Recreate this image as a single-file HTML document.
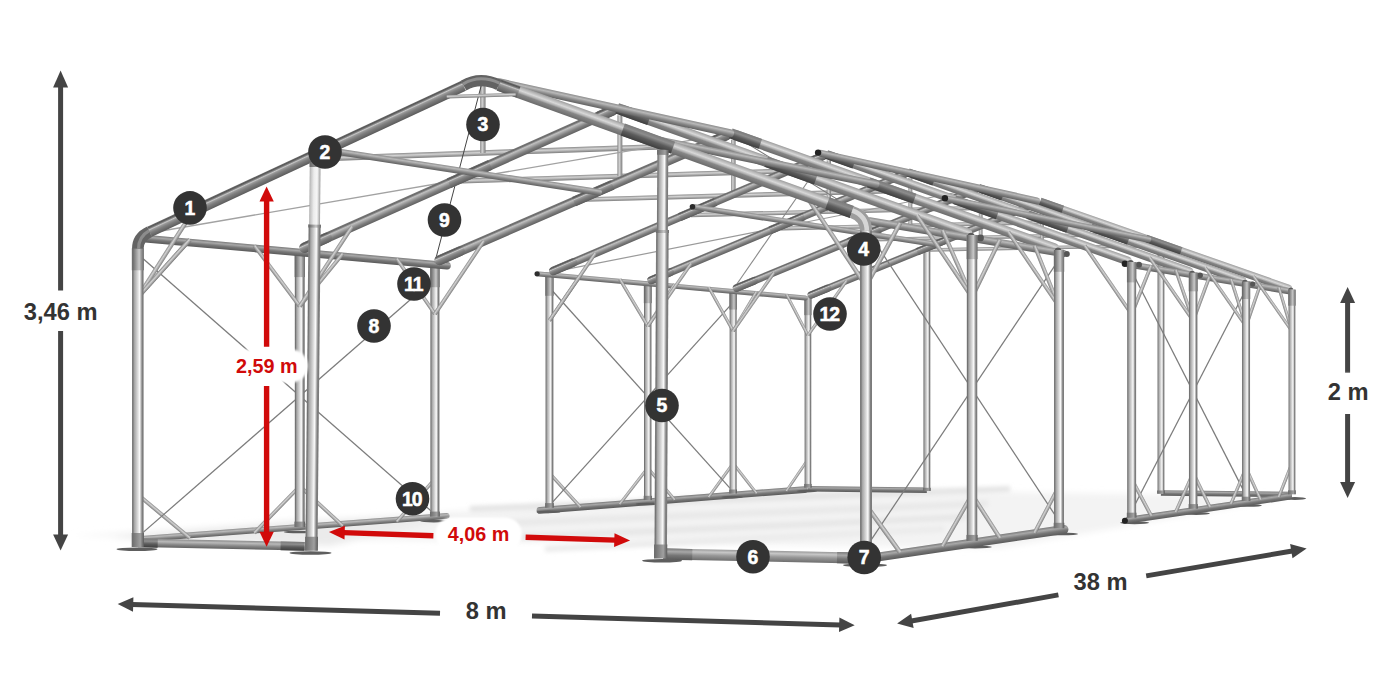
<!DOCTYPE html>
<html lang="pl">
<head>
<meta charset="utf-8">
<title>Wymiary konstrukcji namiotu</title>
<style>
html,body{margin:0;padding:0;background:#fff;}
body{width:1400px;height:700px;overflow:hidden;}
svg{display:block;}
text{font-family:"Liberation Sans",Arial,sans-serif;font-weight:700;}
</style>
</head>
<body>
<svg width="1400" height="700" viewBox="0 0 1400 700">

<defs>
<linearGradient id="gPost" x1="0" y1="0" x2="0" y2="1">
 <stop offset="0" stop-color="#8c8c8c"/><stop offset="0.07" stop-color="#727272"/><stop offset="0.2" stop-color="#a6a6a6"/><stop offset="0.45" stop-color="#d2d2d2"/><stop offset="0.66" stop-color="#fafafa"/><stop offset="0.76" stop-color="#c2c2c2"/><stop offset="0.88" stop-color="#7e7e7e"/><stop offset="1" stop-color="#7a7a7a"/>
</linearGradient>
<linearGradient id="gPostHi" x1="0" y1="0" x2="0" y2="1">
 <stop offset="0" stop-color="#a8a8a8"/><stop offset="0.1" stop-color="#c4c4c4"/><stop offset="0.4" stop-color="#ececec"/><stop offset="0.7" stop-color="#f6f6f6"/><stop offset="0.9" stop-color="#bdbdbd"/><stop offset="1" stop-color="#a0a0a0"/>
</linearGradient>
<linearGradient id="gTopSl" x1="0" y1="0" x2="0" y2="1">
 <stop offset="0" stop-color="#7c7c7c"/><stop offset="0.08" stop-color="#6a6a6a"/><stop offset="0.3" stop-color="#909090"/><stop offset="0.62" stop-color="#c8c8c8"/><stop offset="0.78" stop-color="#999999"/><stop offset="1" stop-color="#6c6c6c"/>
</linearGradient>
<linearGradient id="gFoot" x1="0" y1="0" x2="0" y2="1">
 <stop offset="0" stop-color="#6a6a6a"/><stop offset="0.5" stop-color="#909090"/><stop offset="0.7" stop-color="#a0a0a0"/><stop offset="1" stop-color="#5a5a5a"/>
</linearGradient>
<linearGradient id="gRaf" x1="0" y1="0" x2="0" y2="1">
 <stop offset="0" stop-color="#6c6c6c"/><stop offset="0.12" stop-color="#565656"/><stop offset="0.24" stop-color="#8a8a8a"/><stop offset="0.32" stop-color="#c6c6c6"/><stop offset="0.42" stop-color="#9a9a9a"/><stop offset="0.6" stop-color="#7f7f7f"/><stop offset="0.85" stop-color="#696969"/><stop offset="1" stop-color="#5a5a5a"/>
</linearGradient>
<linearGradient id="gRafL" x1="0" y1="0" x2="0" y2="1">
 <stop offset="0" stop-color="#747474"/><stop offset="0.14" stop-color="#6c6c6c"/><stop offset="0.32" stop-color="#c0c0c0"/><stop offset="0.5" stop-color="#a0a0a0"/><stop offset="0.7" stop-color="#7e7e7e"/><stop offset="1" stop-color="#606060"/>
</linearGradient>
<linearGradient id="gRafR" x1="0" y1="0" x2="0" y2="1">
 <stop offset="0" stop-color="#9c9c9c"/><stop offset="0.15" stop-color="#b8b8b8"/><stop offset="0.35" stop-color="#d8d8d8"/><stop offset="0.52" stop-color="#b0b0b0"/><stop offset="0.64" stop-color="#868686"/><stop offset="1" stop-color="#6c6c6c"/>
</linearGradient>
<linearGradient id="gSleeve" x1="0" y1="0" x2="0" y2="1">
 <stop offset="0" stop-color="#7a7a7a"/><stop offset="0.3" stop-color="#8d8d8d"/><stop offset="0.6" stop-color="#5c5c5c"/>
 <stop offset="1" stop-color="#3f3f3f"/>
</linearGradient>
<linearGradient id="gBeam" x1="0" y1="0" x2="0" y2="1">
 <stop offset="0" stop-color="#8c8c8c"/><stop offset="0.3" stop-color="#b9b9b9"/><stop offset="0.65" stop-color="#858585"/>
 <stop offset="1" stop-color="#616161"/>
</linearGradient>
<linearGradient id="gBeamD" x1="0" y1="0" x2="0" y2="1">
 <stop offset="0" stop-color="#7a7a7a"/><stop offset="0.28" stop-color="#a8a8a8"/><stop offset="0.6" stop-color="#777777"/>
 <stop offset="1" stop-color="#5a5a5a"/>
</linearGradient>
<linearGradient id="gRail" x1="0" y1="0" x2="0" y2="1">
 <stop offset="0" stop-color="#9a9a9a"/><stop offset="0.25" stop-color="#c6c6c6"/><stop offset="0.55" stop-color="#989898"/>
 <stop offset="1" stop-color="#6e6e6e"/>
</linearGradient>
<linearGradient id="gLiteBeam" x1="0" y1="0" x2="0" y2="1">
 <stop offset="0" stop-color="#a8a8a8"/><stop offset="0.35" stop-color="#d6d6d6"/><stop offset="0.7" stop-color="#a9a9a9"/>
 <stop offset="1" stop-color="#7f7f7f"/>
</linearGradient>
<linearGradient id="gLite" x1="0" y1="0" x2="0" y2="1">
 <stop offset="0" stop-color="#8a8a8a"/><stop offset="0.4" stop-color="#d2d2d2"/><stop offset="1" stop-color="#7c7c7c"/>
</linearGradient>
<filter id="soft" x="-10%" y="-20%" width="120%" height="140%"><feGaussianBlur stdDeviation="0.9"/></filter>
<filter id="blur3" x="-5%" y="-30%" width="110%" height="160%"><feGaussianBlur stdDeviation="3"/></filter>
<filter id="blur2" x="-5%" y="-30%" width="110%" height="160%"><feGaussianBlur stdDeviation="2"/></filter>
</defs>

<rect width="1400" height="700" fill="#ffffff"/>
<g id="frame">
<g filter="url(#blur3)">
<polygon points="70,536 808,489 1292,497 1000,548" fill="#f3f3f3"/>
<polygon points="110,538 300,520 460,516 330,546" fill="#ebebeb"/>
</g>
<g filter="url(#blur2)">
<polygon points="470,506 1010,486 1010,492 470,512" fill="#e4e4e4"/>
<polygon points="495,520 988,500 988,507 495,527" fill="#e9e9e9"/>
<polygon points="520,534 966,514 966,520 520,540" fill="#e6e6e6"/>
<polygon points="545,546 944,526 944,532 545,552" fill="#ebebeb"/>
</g>
<rect x="0" y="-2.70" width="118.96" height="5.40" fill="url(#gBeamD)" transform="translate(807.89 488.80) rotate(0.68)"/>
<rect x="0" y="-2.70" width="131.01" height="5.40" fill="url(#gBeamD)" transform="translate(1160.91 492.96) rotate(0.68)"/>
<rect x="0" y="-3.50" width="242.52" height="7.00" fill="url(#gPost)" transform="translate(926.84 490.66) rotate(-90.00)"/>
<rect x="0" y="-3.80" width="3.19" height="7.60" fill="url(#gFoot)" transform="translate(926.84 490.98) rotate(-90.00)"/>
<rect x="0" y="-3.50" width="249.95" height="7.00" fill="url(#gPost)" transform="translate(1160.91 493.44) rotate(-90.00)"/>
<rect x="0" y="-3.80" width="3.29" height="7.60" fill="url(#gFoot)" transform="translate(1160.91 493.77) rotate(-90.00)"/>
<rect x="0" y="-3.00" width="312.48" height="6.00" rx="3.0" fill="url(#gBeam)" transform="translate(138.00 539.12) rotate(-4.30)"/>
<rect x="0" y="-3.40" width="272.13" height="6.80" rx="3.4" fill="url(#gBeamD)" transform="translate(536.60 510.65) rotate(-4.51)"/>
<rect x="0" y="-2.00" width="67.49" height="4.00" fill="url(#gLite)" transform="translate(138.00 494.72) rotate(39.89)"/>
<rect x="0" y="-1.86" width="65.12" height="3.71" fill="url(#gLite)" transform="translate(254.37 532.91) rotate(-45.80)"/>
<rect x="0" y="-1.86" width="58.55" height="3.71" fill="url(#gLite)" transform="translate(299.76 486.22) rotate(42.72)"/>
<rect x="0" y="-1.74" width="57.15" height="3.47" fill="url(#gLite)" transform="translate(396.73 521.68) rotate(-48.14)"/>
<rect x="0" y="-1.63" width="46.11" height="3.27" fill="url(#gLite)" transform="translate(549.42 473.09) rotate(47.69)"/>
<rect x="0" y="-1.55" width="45.75" height="3.09" fill="url(#gLite)" transform="translate(619.75 504.10) rotate(-52.25)"/>
<rect x="0" y="-1.55" width="41.65" height="3.09" fill="url(#gLite)" transform="translate(647.76 467.93) rotate(49.87)"/>
<rect x="0" y="-1.47" width="41.56" height="2.94" fill="url(#gLite)" transform="translate(708.71 497.08) rotate(-54.05)"/>
<rect x="0" y="-1.47" width="37.98" height="2.94" fill="url(#gLite)" transform="translate(733.11 463.44) rotate(51.87)"/>
<rect x="0" y="-1.41" width="38.06" height="2.81" fill="url(#gLite)" transform="translate(786.45 490.95) rotate(-55.71)"/>
<line x1="138.0" y1="254.2" x2="434.9" y2="514.3" stroke="#7c7c7c" stroke-width="1.25"/>
<line x1="434.9" y1="278.2" x2="138.0" y2="536.9" stroke="#7c7c7c" stroke-width="1.25"/>
<line x1="549.4" y1="287.5" x2="733.1" y2="491.7" stroke="#7c7c7c" stroke-width="1.25"/>
<line x1="733.1" y1="302.4" x2="549.4" y2="505.6" stroke="#7c7c7c" stroke-width="1.25"/>
<rect x="0" y="-5.00" width="276.82" height="10.00" fill="url(#gPost)" transform="translate(299.76 526.61) rotate(-90.00)"/>
<rect x="0" y="-5.30" width="5.46" height="10.60" fill="url(#gFoot)" transform="translate(299.76 527.07) rotate(-90.00)"/>
<rect x="0" y="-5.20" width="27.31" height="10.40" fill="url(#gTopSl)" transform="translate(299.76 277.10) rotate(-90.00)"/>
<rect x="0" y="-4.60" width="254.02" height="9.20" fill="url(#gPost)" transform="translate(434.87 516.18) rotate(-90.00)"/>
<rect x="0" y="-4.90" width="5.01" height="9.80" fill="url(#gFoot)" transform="translate(434.87 516.60) rotate(-90.00)"/>
<rect x="0" y="-4.80" width="25.06" height="9.60" fill="url(#gTopSl)" transform="translate(434.87 287.22) rotate(-90.00)"/>
<rect x="0" y="-4.00" width="234.69" height="8.00" fill="url(#gPost)" transform="translate(549.42 507.34) rotate(-90.00)"/>
<rect x="0" y="-4.30" width="4.63" height="8.60" fill="url(#gFoot)" transform="translate(549.42 507.73) rotate(-90.00)"/>
<rect x="0" y="-4.20" width="23.15" height="8.40" fill="url(#gTopSl)" transform="translate(549.42 295.81) rotate(-90.00)"/>
<rect x="0" y="-3.75" width="218.09" height="7.50" fill="url(#gPost)" transform="translate(647.76 499.75) rotate(-90.00)"/>
<rect x="0" y="-4.05" width="4.30" height="8.10" fill="url(#gFoot)" transform="translate(647.76 500.11) rotate(-90.00)"/>
<rect x="0" y="-3.95" width="21.51" height="7.90" fill="url(#gTopSl)" transform="translate(647.76 303.18) rotate(-90.00)"/>
<rect x="0" y="-3.60" width="203.68" height="7.20" fill="url(#gPost)" transform="translate(733.11 493.16) rotate(-90.00)"/>
<rect x="0" y="-3.90" width="4.02" height="7.80" fill="url(#gFoot)" transform="translate(733.11 493.50) rotate(-90.00)"/>
<rect x="0" y="-3.80" width="20.09" height="7.60" fill="url(#gTopSl)" transform="translate(733.11 309.57) rotate(-90.00)"/>
<rect x="0" y="-3.40" width="191.06" height="6.80" fill="url(#gPost)" transform="translate(807.89 487.39) rotate(-90.00)"/>
<rect x="0" y="-3.70" width="3.77" height="7.40" fill="url(#gFoot)" transform="translate(807.89 487.70) rotate(-90.00)"/>
<rect x="0" y="-3.60" width="18.85" height="7.20" fill="url(#gTopSl)" transform="translate(807.89 315.17) rotate(-90.00)"/>
<rect x="0" y="-3.80" width="310.52" height="7.60" rx="3.8" fill="url(#gBeamD)" transform="translate(141.55 238.26) rotate(5.14)"/>
<rect x="0" y="-2.50" width="272.38" height="5.00" rx="2.5" fill="url(#gBeam)" transform="translate(536.60 273.79) rotate(5.14)"/>
<circle cx="537.1" cy="273.8" r="2.6" fill="#2e2e2e"/>
<rect x="0" y="-2.10" width="77.32" height="4.20" fill="url(#gLite)" transform="translate(138.00 297.14) rotate(-47.95)"/>
<rect x="0" y="-1.96" width="75.83" height="3.91" fill="url(#gLite)" transform="translate(254.37 245.64) rotate(53.23)"/>
<rect x="0" y="-1.96" width="67.98" height="3.91" fill="url(#gLite)" transform="translate(299.76 306.37) rotate(-50.75)"/>
<rect x="0" y="-1.84" width="67.27" height="3.67" fill="url(#gLite)" transform="translate(396.73 258.67) rotate(55.46)"/>
<rect x="0" y="-1.73" width="54.77" height="3.47" fill="url(#gLite)" transform="translate(549.42 320.62) rotate(-55.48)"/>
<rect x="0" y="-1.65" width="54.84" height="3.29" fill="url(#gLite)" transform="translate(619.75 279.10) rotate(59.28)"/>
<rect x="0" y="-1.65" width="49.95" height="3.29" fill="url(#gLite)" transform="translate(647.76 326.24) rotate(-57.49)"/>
<rect x="0" y="-1.57" width="50.19" height="3.14" fill="url(#gLite)" transform="translate(708.71 287.24) rotate(60.92)"/>
<rect x="0" y="-1.57" width="45.92" height="3.14" fill="url(#gLite)" transform="translate(733.11 331.11) rotate(-59.29)"/>
<rect x="0" y="-1.51" width="46.28" height="3.01" fill="url(#gLite)" transform="translate(786.45 294.36) rotate(62.40)"/>
<rect x="0" y="-2.72" width="351.82" height="5.44" fill="url(#gLite)" transform="translate(311.52 158.95) rotate(-2.00)"/>
<rect x="0" y="-2.72" width="67.24" height="5.44" fill="url(#gLite)" transform="translate(482.84 152.97) rotate(-90.00)"/>
<rect x="0" y="-2.49" width="324.96" height="4.98" fill="url(#gLite)" transform="translate(461.20 181.11) rotate(-1.77)"/>
<rect x="0" y="-2.49" width="60.92" height="4.98" fill="url(#gLite)" transform="translate(619.86 176.20) rotate(-90.00)"/>
<rect x="0" y="-2.30" width="301.75" height="4.60" fill="url(#gLite)" transform="translate(585.69 199.54) rotate(-1.59)"/>
<rect x="0" y="-2.30" width="55.69" height="4.60" fill="url(#gLite)" transform="translate(733.32 195.44) rotate(-90.00)"/>
<rect x="0" y="-2.14" width="281.53" height="4.29" fill="url(#gLite)" transform="translate(690.84 215.10) rotate(-1.44)"/>
<rect x="0" y="-2.14" width="51.28" height="4.29" fill="url(#gLite)" transform="translate(828.82 211.63) rotate(-90.00)"/>
<rect x="0" y="-2.01" width="263.78" height="4.02" fill="url(#gLite)" transform="translate(780.84 228.42) rotate(-1.32)"/>
<rect x="0" y="-2.01" width="47.52" height="4.02" fill="url(#gLite)" transform="translate(910.32 225.44) rotate(-90.00)"/>
<rect x="0" y="-1.89" width="248.08" height="3.78" fill="url(#gLite)" transform="translate(858.74 239.95) rotate(-1.21)"/>
<rect x="0" y="-1.89" width="44.27" height="3.78" fill="url(#gLite)" transform="translate(980.68 237.37) rotate(-90.00)"/>
<rect x="0" y="-1.79" width="234.12" height="3.58" fill="url(#gLite)" transform="translate(926.84 250.03) rotate(-1.12)"/>
<rect x="0" y="-1.79" width="41.44" height="3.58" fill="url(#gLite)" transform="translate(1042.03 247.77) rotate(-90.00)"/>
<line x1="138.0" y1="235.0" x2="730.8" y2="133.4" stroke="#a2a2a2" stroke-width="1.30"/>
<line x1="483.0" y1="78.8" x2="434.9" y2="262.2" stroke="#444" stroke-width="1.00"/>
<line x1="866.0" y1="217.1" x2="730.8" y2="133.4" stroke="#777" stroke-width="1.10"/>
<line x1="549.4" y1="272.7" x2="978.6" y2="188.0" stroke="#9a9a9a" stroke-width="1.20"/>
<line x1="826.5" y1="154.5" x2="733.1" y2="289.5" stroke="#8a8a8a" stroke-width="1.10"/>
<rect x="0" y="-3.60" width="250.79" height="7.20" rx="3.6" fill="url(#gRafL)" transform="translate(807.89 296.33) rotate(-22.19)"/>
<rect x="0" y="-3.75" width="25.08" height="7.50" rx="3.8" fill="url(#gRaf)" transform="translate(807.89 296.33) rotate(-22.19)"/>
<rect x="0" y="-3.75" width="32.60" height="7.50" fill="url(#gRaf)" transform="translate(917.03 251.80) rotate(-22.19)"/>
<rect x="0" y="-3.75" width="17.56" height="7.50" rx="3.8" fill="url(#gRaf)" transform="translate(1023.84 208.22) rotate(-22.19)"/>
<rect x="0" y="-1.57" width="67.09" height="3.14" fill="url(#gLite)" transform="translate(807.89 335.38) rotate(-54.71)"/>
<rect x="0" y="-3.75" width="265.65" height="7.50" rx="3.8" fill="url(#gRafL)" transform="translate(733.11 289.48) rotate(-22.45)"/>
<rect x="0" y="-3.90" width="26.56" height="7.80" rx="3.9" fill="url(#gRaf)" transform="translate(733.11 289.48) rotate(-22.45)"/>
<rect x="0" y="-3.90" width="34.53" height="7.80" fill="url(#gRaf)" transform="translate(848.50 241.80) rotate(-22.45)"/>
<rect x="0" y="-3.90" width="18.60" height="7.80" rx="3.9" fill="url(#gRaf)" transform="translate(961.44 195.14) rotate(-22.45)"/>
<rect x="0" y="-1.64" width="71.32" height="3.28" fill="url(#gLite)" transform="translate(733.11 331.11) rotate(-55.00)"/>
<rect x="0" y="-3.90" width="282.34" height="7.80" rx="3.9" fill="url(#gRafL)" transform="translate(647.76 281.66) rotate(-22.75)"/>
<rect x="0" y="-4.05" width="28.23" height="8.10" rx="4.0" fill="url(#gRaf)" transform="translate(647.76 281.66) rotate(-22.75)"/>
<rect x="0" y="-4.05" width="36.70" height="8.10" fill="url(#gRaf)" transform="translate(770.14 230.35) rotate(-22.75)"/>
<rect x="0" y="-4.05" width="19.76" height="8.10" rx="4.0" fill="url(#gRaf)" transform="translate(889.91 180.14) rotate(-22.75)"/>
<rect x="0" y="-1.72" width="76.12" height="3.44" fill="url(#gLite)" transform="translate(647.76 326.24) rotate(-55.33)"/>
<rect x="0" y="-4.10" width="301.23" height="8.20" rx="4.1" fill="url(#gRafL)" transform="translate(549.42 272.66) rotate(-23.10)"/>
<rect x="0" y="-4.25" width="30.12" height="8.50" rx="4.2" fill="url(#gRaf)" transform="translate(549.42 272.66) rotate(-23.10)"/>
<rect x="0" y="-4.25" width="39.16" height="8.50" fill="url(#gRaf)" transform="translate(679.64 217.12) rotate(-23.10)"/>
<rect x="0" y="-4.25" width="21.09" height="8.50" rx="4.2" fill="url(#gRaf)" transform="translate(807.10 162.76) rotate(-23.10)"/>
<rect x="0" y="-1.81" width="81.62" height="3.62" fill="url(#gLite)" transform="translate(549.42 320.62) rotate(-55.72)"/>
<rect x="0" y="-4.80" width="322.76" height="9.60" rx="4.8" fill="url(#gRafL)" transform="translate(434.87 262.17) rotate(-23.51)"/>
<rect x="0" y="-4.95" width="32.28" height="9.90" rx="5.0" fill="url(#gRaf)" transform="translate(434.87 262.17) rotate(-23.51)"/>
<rect x="0" y="-4.95" width="41.96" height="9.90" fill="url(#gRaf)" transform="translate(573.97 201.65) rotate(-23.51)"/>
<rect x="0" y="-4.95" width="22.59" height="9.90" rx="5.0" fill="url(#gRaf)" transform="translate(710.11 142.41) rotate(-23.51)"/>
<rect x="0" y="-1.92" width="87.97" height="3.84" fill="url(#gLite)" transform="translate(434.87 314.09) rotate(-56.18)"/>
<rect x="0" y="-5.10" width="347.51" height="10.20" rx="5.1" fill="url(#gRafL)" transform="translate(299.76 249.79) rotate(-24.02)"/>
<rect x="0" y="-5.25" width="34.75" height="10.50" rx="5.2" fill="url(#gRaf)" transform="translate(299.76 249.79) rotate(-24.02)"/>
<rect x="0" y="-5.25" width="45.18" height="10.50" fill="url(#gRaf)" transform="translate(448.94 183.31) rotate(-24.02)"/>
<rect x="0" y="-5.25" width="24.33" height="10.50" rx="5.2" fill="url(#gRaf)" transform="translate(594.96 118.24) rotate(-24.02)"/>
<rect x="0" y="-2.05" width="95.40" height="4.09" fill="url(#gLite)" transform="translate(299.76 306.37) rotate(-56.72)"/>
<rect x="0" y="-3.25" width="280.17" height="6.50" rx="3.2" fill="url(#gBeam)" transform="translate(325.01 149.78) rotate(8.81)"/>
<rect x="0" y="-2.80" width="246.84" height="5.60" rx="2.8" fill="url(#gBeam)" transform="translate(692.06 206.65) rotate(8.81)"/>
<circle cx="692.5" cy="206.7" r="2.8" fill="#2a2a2a"/>
<rect x="0" y="-3.90" width="266.77" height="7.80" rx="3.9" fill="url(#gRafR)" transform="translate(1040.10 201.59) rotate(19.28)"/>
<rect x="0" y="-4.00" width="37.35" height="8.00" fill="url(#gSleeve)" transform="translate(1145.86 238.58) rotate(19.28)"/>
<rect x="0" y="-4.00" width="24.01" height="8.00" fill="url(#gSleeve)" transform="translate(1040.10 201.59) rotate(19.28)"/>
<rect x="0" y="-4.05" width="283.39" height="8.10" rx="4.0" fill="url(#gRafR)" transform="translate(978.63 188.03) rotate(19.33)"/>
<rect x="0" y="-4.15" width="39.68" height="8.30" fill="url(#gSleeve)" transform="translate(1090.94 227.44) rotate(19.33)"/>
<rect x="0" y="-4.15" width="25.51" height="8.30" fill="url(#gSleeve)" transform="translate(978.63 188.03) rotate(19.33)"/>
<rect x="0" y="-4.20" width="302.20" height="8.40" rx="4.2" fill="url(#gRafR)" transform="translate(908.14 172.49) rotate(19.39)"/>
<rect x="0" y="-4.30" width="42.31" height="8.60" fill="url(#gSleeve)" transform="translate(1027.86 214.64) rotate(19.39)"/>
<rect x="0" y="-4.30" width="27.20" height="8.60" fill="url(#gSleeve)" transform="translate(908.14 172.49) rotate(19.39)"/>
<rect x="0" y="-4.40" width="323.63" height="8.80" rx="4.4" fill="url(#gRafR)" transform="translate(826.50 154.49) rotate(19.47)"/>
<rect x="0" y="-4.50" width="45.31" height="9.00" fill="url(#gSleeve)" transform="translate(954.65 199.80) rotate(19.47)"/>
<rect x="0" y="-4.50" width="29.13" height="9.00" fill="url(#gSleeve)" transform="translate(826.50 154.49) rotate(19.47)"/>
<rect x="0" y="-5.10" width="348.26" height="10.20" rx="5.1" fill="url(#gRafR)" transform="translate(730.83 133.40) rotate(19.56)"/>
<rect x="0" y="-5.20" width="48.76" height="10.40" fill="url(#gSleeve)" transform="translate(868.66 182.37) rotate(19.56)"/>
<rect x="0" y="-5.20" width="31.34" height="10.40" fill="url(#gSleeve)" transform="translate(730.83 133.40) rotate(19.56)"/>
<rect x="0" y="-5.40" width="376.84" height="10.80" rx="5.4" fill="url(#gRafR)" transform="translate(617.18 108.34) rotate(19.67)"/>
<rect x="0" y="-5.50" width="52.76" height="11.00" fill="url(#gSleeve)" transform="translate(766.21 161.62) rotate(19.67)"/>
<rect x="0" y="-5.50" width="33.92" height="11.00" fill="url(#gSleeve)" transform="translate(617.18 108.34) rotate(19.67)"/>
<rect x="0" y="-4.00" width="244.75" height="8.00" rx="4.0" fill="url(#gBeam)" transform="translate(494.93 81.39) rotate(12.43)"/>
<rect x="0" y="-3.50" width="227.82" height="7.00" rx="3.5" fill="url(#gBeam)" transform="translate(817.62 152.54) rotate(12.43)"/>
<circle cx="818.1" cy="152.6" r="3.2" fill="#222"/>
<rect x="0" y="-3.75" width="235.77" height="7.50" rx="3.8" fill="url(#gBeam)" transform="translate(648.25 138.09) rotate(11.46)"/>
<rect x="0" y="-3.20" width="210.93" height="6.40" rx="3.2" fill="url(#gBeam)" transform="translate(944.47 198.15) rotate(11.46)"/>
<circle cx="944.9" cy="198.2" r="3.2" fill="#222"/>
<rect x="0" y="-3.75" width="203.63" height="7.50" rx="3.8" fill="url(#gBeam)" transform="translate(866.00 220.42) rotate(9.49)"/>
<rect x="0" y="-3.20" width="169.32" height="6.40" rx="3.2" fill="url(#gBeam)" transform="translate(1124.90 263.71) rotate(9.49)"/>
<circle cx="1124.9" cy="263.7" r="3.2" fill="#222"/>
<circle cx="1066.8" cy="254.0" r="3.0" fill="#555"/>
<circle cx="971.0" cy="236.2" r="3.4" fill="#5a5a5a"/>
<circle cx="980.5" cy="237.9" r="3.4" fill="#555"/>
<circle cx="1058.0" cy="250.8" r="3.2" fill="#5a5a5a"/>
<circle cx="1130.6" cy="263.1" r="3.0" fill="#5a5a5a"/>
<circle cx="1139.0" cy="264.8" r="3.0" fill="#555"/>
<circle cx="1192.2" cy="273.5" r="2.8" fill="#5a5a5a"/>
<circle cx="1200.1" cy="275.2" r="2.8" fill="#555"/>
<circle cx="1245.0" cy="282.4" r="2.7" fill="#5a5a5a"/>
<circle cx="1252.6" cy="284.1" r="2.7" fill="#555"/>
<circle cx="1290.9" cy="290.1" r="2.5" fill="#5a5a5a"/>
<ellipse cx="975.0" cy="547.1" rx="16.8" ry="1.4" fill="#5e5e5e"/>
<ellipse cx="1062.0" cy="533.9" rx="16.0" ry="1.4" fill="#5e5e5e"/>
<ellipse cx="1134.6" cy="522.8" rx="14.4" ry="1.4" fill="#5e5e5e"/>
<ellipse cx="1196.2" cy="513.5" rx="13.6" ry="1.4" fill="#5e5e5e"/>
<ellipse cx="1249.0" cy="505.4" rx="12.8" ry="1.4" fill="#5e5e5e"/>
<ellipse cx="1294.9" cy="498.5" rx="11.2" ry="1.4" fill="#5e5e5e"/>
<rect x="0" y="-4.50" width="204.59" height="9.00" rx="4.5" fill="url(#gBeamD)" transform="translate(866.00 558.75) rotate(-8.41)"/>
<rect x="0" y="-3.40" width="168.83" height="6.80" rx="3.4" fill="url(#gBeamD)" transform="translate(1124.90 520.73) rotate(-8.43)"/>
<circle cx="1124.9" cy="520.7" r="3.0" fill="#222"/>
<line x1="866.0" y1="228.6" x2="1059.0" y2="521.1" stroke="#7c7c7c" stroke-width="1.25"/>
<line x1="1059.0" y1="259.4" x2="866.0" y2="547.6" stroke="#7c7c7c" stroke-width="1.25"/>
<line x1="1131.6" y1="271.0" x2="1246.0" y2="495.4" stroke="#7c7c7c" stroke-width="1.25"/>
<line x1="1246.0" y1="289.3" x2="1131.6" y2="511.1" stroke="#7c7c7c" stroke-width="1.25"/>
<rect x="0" y="-2.27" width="71.72" height="4.55" fill="url(#gLite)" transform="translate(866.00 286.02) rotate(-61.55)"/>
<rect x="0" y="-2.27" width="58.49" height="4.55" fill="url(#gLite)" transform="translate(866.00 504.96) rotate(54.26)"/>
<rect x="0" y="-2.10" width="73.32" height="4.20" fill="url(#gLite)" transform="translate(942.48 230.16) rotate(66.24)"/>
<rect x="0" y="-2.10" width="59.48" height="4.20" fill="url(#gLite)" transform="translate(942.48 546.23) rotate(-60.22)"/>
<rect x="0" y="-2.10" width="63.74" height="4.20" fill="url(#gLite)" transform="translate(972.02 297.27) rotate(-64.10)"/>
<rect x="0" y="-2.10" width="51.41" height="4.20" fill="url(#gLite)" transform="translate(972.02 494.60) rotate(57.21)"/>
<rect x="0" y="-2.10" width="98.69" height="4.20" fill="url(#gLite)" transform="translate(916.96 215.37) rotate(56.09)"/>
<rect x="0" y="-1.95" width="65.38" height="3.91" fill="url(#gLite)" transform="translate(1034.59 245.84) rotate(68.08)"/>
<rect x="0" y="-1.95" width="52.63" height="3.91" fill="url(#gLite)" transform="translate(1034.59 532.73) rotate(-62.37)"/>
<rect x="0" y="-1.95" width="90.26" height="3.91" fill="url(#gLite)" transform="translate(1008.26 231.84) rotate(55.80)"/>
<rect x="0" y="-1.83" width="52.30" height="3.67" fill="url(#gLite)" transform="translate(1131.62 314.21) rotate(-68.10)"/>
<rect x="0" y="-1.83" width="41.51" height="3.67" fill="url(#gLite)" transform="translate(1131.62 479.00) rotate(61.97)"/>
<rect x="0" y="-1.83" width="83.16" height="3.67" fill="url(#gLite)" transform="translate(1084.60 245.62) rotate(55.56)"/>
<rect x="0" y="-1.73" width="53.78" height="3.47" fill="url(#gLite)" transform="translate(1175.73 269.87) rotate(71.05)"/>
<rect x="0" y="-1.73" width="42.78" height="3.47" fill="url(#gLite)" transform="translate(1175.73 512.04) rotate(-65.91)"/>
<rect x="0" y="-1.73" width="48.04" height="3.47" fill="url(#gLite)" transform="translate(1193.19 320.74) rotate(-69.68)"/>
<rect x="0" y="-1.73" width="37.91" height="3.47" fill="url(#gLite)" transform="translate(1193.19 472.98) rotate(63.90)"/>
<rect x="0" y="-1.73" width="77.10" height="3.47" fill="url(#gLite)" transform="translate(1149.37 257.31) rotate(55.36)"/>
<rect x="0" y="-1.65" width="49.42" height="3.29" fill="url(#gLite)" transform="translate(1230.99 279.28) rotate(72.27)"/>
<rect x="0" y="-1.65" width="39.13" height="3.29" fill="url(#gLite)" transform="translate(1230.99 503.94) rotate(-67.37)"/>
<rect x="0" y="-1.65" width="44.46" height="3.29" fill="url(#gLite)" transform="translate(1246.04 326.35) rotate(-71.06)"/>
<rect x="0" y="-1.65" width="34.91" height="3.29" fill="url(#gLite)" transform="translate(1246.04 467.82) rotate(65.59)"/>
<rect x="0" y="-1.65" width="71.85" height="3.29" fill="url(#gLite)" transform="translate(1205.03 267.36) rotate(55.19)"/>
<rect x="0" y="-1.57" width="45.72" height="3.14" fill="url(#gLite)" transform="translate(1278.80 287.42) rotate(73.34)"/>
<rect x="0" y="-1.57" width="36.06" height="3.14" fill="url(#gLite)" transform="translate(1278.80 496.93) rotate(-68.68)"/>
<rect x="0" y="-1.57" width="67.28" height="3.14" fill="url(#gLite)" transform="translate(1253.36 276.08) rotate(55.04)"/>
<rect x="0" y="-3.50" width="204.35" height="7.00" fill="url(#gPost)" transform="translate(1291.91 494.00) rotate(-90.00)"/>
<rect x="0" y="-3.80" width="4.01" height="7.60" fill="url(#gFoot)" transform="translate(1291.91 494.34) rotate(-90.00)"/>
<rect x="0" y="-3.70" width="16.05" height="7.40" fill="url(#gTopSl)" transform="translate(1291.91 305.70) rotate(-90.00)"/>
<rect x="0" y="-4.00" width="218.81" height="8.00" fill="url(#gPost)" transform="translate(1246.04 500.65) rotate(-90.00)"/>
<rect x="0" y="-4.30" width="4.30" height="8.60" fill="url(#gFoot)" transform="translate(1246.04 501.01) rotate(-90.00)"/>
<rect x="0" y="-4.20" width="17.18" height="8.40" fill="url(#gTopSl)" transform="translate(1246.04 299.03) rotate(-90.00)"/>
<rect x="0" y="-4.25" width="235.47" height="8.50" fill="url(#gPost)" transform="translate(1193.19 508.32) rotate(-90.00)"/>
<rect x="0" y="-4.55" width="4.62" height="9.10" fill="url(#gFoot)" transform="translate(1193.19 508.71) rotate(-90.00)"/>
<rect x="0" y="-4.45" width="18.49" height="8.90" fill="url(#gTopSl)" transform="translate(1193.19 291.34) rotate(-90.00)"/>
<rect x="0" y="-4.50" width="254.89" height="9.00" fill="url(#gPost)" transform="translate(1131.62 517.25) rotate(-90.00)"/>
<rect x="0" y="-4.80" width="5.00" height="9.60" fill="url(#gFoot)" transform="translate(1131.62 517.67) rotate(-90.00)"/>
<rect x="0" y="-4.70" width="20.02" height="9.40" fill="url(#gTopSl)" transform="translate(1131.62 282.38) rotate(-90.00)"/>
<rect x="0" y="-5.00" width="277.79" height="10.00" fill="url(#gPost)" transform="translate(1058.99 527.79) rotate(-90.00)"/>
<rect x="0" y="-5.30" width="5.45" height="10.60" fill="url(#gFoot)" transform="translate(1058.99 528.24) rotate(-90.00)"/>
<rect x="0" y="-5.20" width="21.82" height="10.40" fill="url(#gTopSl)" transform="translate(1058.99 271.81) rotate(-90.00)"/>
<rect x="0" y="-5.25" width="305.21" height="10.50" fill="url(#gPost)" transform="translate(972.02 540.40) rotate(-90.00)"/>
<rect x="0" y="-5.55" width="5.99" height="11.10" fill="url(#gFoot)" transform="translate(972.02 540.90) rotate(-90.00)"/>
<rect x="0" y="-5.45" width="23.97" height="10.90" fill="url(#gTopSl)" transform="translate(972.02 259.16) rotate(-90.00)"/>
<ellipse cx="298.8" cy="532.0" rx="15.0" ry="1.3" fill="#5e5e5e"/>
<ellipse cx="433.9" cy="521.1" rx="13.8" ry="1.3" fill="#5e5e5e"/>
<ellipse cx="548.4" cy="511.9" rx="12.0" ry="1.3" fill="#5e5e5e"/>
<ellipse cx="646.8" cy="504.0" rx="11.2" ry="1.3" fill="#5e5e5e"/>
<ellipse cx="732.1" cy="497.1" rx="10.8" ry="1.3" fill="#5e5e5e"/>
<ellipse cx="806.9" cy="491.1" rx="10.2" ry="1.3" fill="#5e5e5e"/>
<rect x="0" y="-4.25" width="166.66" height="8.50" fill="url(#gBeam)" transform="translate(138.00 542.82) rotate(1.21)"/>
<rect x="0" y="-5.50" width="202.92" height="11.00" fill="url(#gRail)" transform="translate(663.12 553.96) rotate(1.21)"/>
<rect x="0" y="-5.70" width="29.17" height="11.40" fill="url(#gBeamD)" transform="translate(663.12 553.96) rotate(1.21)"/>
<rect x="0" y="-5.70" width="29.01" height="11.40" fill="url(#gBeamD)" transform="translate(837.00 557.64) rotate(1.21)"/>
<rect x="0" y="-4.45" width="19.72" height="8.90" fill="url(#gSleeve)" transform="translate(138.00 542.82) rotate(1.21)"/>
<rect x="0" y="-4.45" width="24.03" height="8.90" fill="url(#gSleeve)" transform="translate(280.59 545.84) rotate(1.21)"/>
<rect x="0" y="-2.20" width="104.20" height="4.40" fill="url(#gLite)" transform="translate(138.00 297.14) rotate(-57.38)"/>
<rect x="0" y="-2.20" width="108.85" height="4.40" fill="url(#gLite)" transform="translate(805.83 195.31) rotate(56.44)"/>
<rect x="0" y="-2.10" width="77.32" height="4.20" fill="url(#gLite)" transform="translate(138.00 297.14) rotate(-47.95)"/>
<rect x="0" y="-6.10" width="375.34" height="12.20" fill="url(#gRafR)" transform="translate(498.76 84.86) rotate(19.81)"/>
<rect x="0" y="-6.30" width="53.34" height="12.60" fill="url(#gSleeve)" transform="translate(622.78 129.53) rotate(19.81)"/>
<rect x="0" y="-6.30" width="26.03" height="12.60" fill="url(#gSleeve)" transform="translate(827.39 203.23) rotate(19.81)"/>
<rect x="0" y="-5.50" width="346.37" height="11.00" fill="url(#gRaf)" transform="translate(149.59 231.82) rotate(-24.96)"/>
<rect x="0" y="-5.90" width="21.03" height="11.80" fill="url(#gRaf)" transform="translate(498.76 84.86) rotate(19.81)"/>
<path d="M463.6 85.7 Q479.9 76.1 498.8 84.9" stroke="#626262" stroke-width="11.2" fill="none"/>
<path d="M463.0 84.1 Q479.9 74.0 499.4 83.1" stroke="#8f8f8f" stroke-width="3.0" fill="none"/>
<rect x="0" y="-6.10" width="325.73" height="12.20" fill="url(#gPost)" transform="translate(311.41 550.31) rotate(-89.44)"/>
<rect x="0" y="-6.40" width="14.00" height="12.80" fill="url(#gFoot)" transform="translate(311.41 550.81) rotate(-89.44)"/>
<rect x="0" y="-5.40" width="63.61" height="10.80" fill="url(#gPostHi)" transform="translate(314.58 225.60) rotate(-89.44)"/>
<rect x="0" y="-6.40" width="3.00" height="12.80" fill="url(#gTopSl)" transform="translate(314.56 227.60) rotate(-89.44)"/>
<rect x="0" y="-5.60" width="5.00" height="11.20" fill="url(#gFoot)" transform="translate(315.15 166.99) rotate(-89.44)"/>
<rect x="0" y="-6.30" width="328.05" height="12.60" fill="url(#gPost)" transform="translate(660.61 558.04) rotate(-89.69)"/>
<rect x="0" y="-6.60" width="14.00" height="13.20" fill="url(#gFoot)" transform="translate(660.61 558.54) rotate(-89.69)"/>
<rect x="0" y="-5.50" width="81.13" height="11.00" fill="url(#gPost)" transform="translate(662.36 231.00) rotate(-89.69)"/>
<rect x="0" y="-6.60" width="3.00" height="13.20" fill="url(#gTopSl)" transform="translate(662.35 233.00) rotate(-89.69)"/>
<rect x="0" y="-5.70" width="5.00" height="11.40" fill="url(#gFoot)" transform="translate(662.77 154.87) rotate(-89.69)"/>
<rect x="0" y="-1.70" width="68.97" height="3.40" fill="url(#gLite)" transform="translate(446.73 96.70) rotate(-1.76)"/>
<rect x="0" y="-5.80" width="298.20" height="11.60" fill="url(#gPost)" transform="translate(137.80 546.50) rotate(-90.00)"/>
<rect x="0" y="-6.10" width="14.00" height="12.20" fill="url(#gFoot)" transform="translate(137.80 547.00) rotate(-90.00)"/>
<rect x="0" y="-6.00" width="22.00" height="12.00" fill="url(#gTopSl)" transform="translate(137.80 270.30) rotate(-90.00)"/>
<rect x="0" y="-6.00" width="332.36" height="12.00" fill="url(#gPost)" transform="translate(866.00 562.50) rotate(-90.00)"/>
<rect x="0" y="-6.30" width="15.00" height="12.60" fill="url(#gFoot)" transform="translate(866.00 563.00) rotate(-90.00)"/>
<path d="M137.8 248.8 Q137.8 237.3 149.6 231.8" stroke="#646464" stroke-width="11.6" fill="none"/>
<path d="M138.6 248.8 Q138.4 236.7 149.2 230.6" stroke="#8c8c8c" stroke-width="3.2" fill="none"/>
<path d="M866.0 230.6 Q866.0 217.1 851.9 212.1" stroke="#9d9d9d" stroke-width="12.2" fill="none"/>
<path d="M866.8 230.6 Q866.6 215.7 852.2 210.5" stroke="#d6d6d6" stroke-width="4.6" fill="none"/>
<ellipse cx="137.0" cy="549.2" rx="20.5" ry="1.7" fill="#5e5e5e"/>
<ellipse cx="310.5" cy="553.0" rx="21.0" ry="1.7" fill="#5e5e5e"/>
<ellipse cx="662.1" cy="560.7" rx="20.0" ry="1.7" fill="#5e5e5e"/>
<ellipse cx="865.0" cy="565.2" rx="22.0" ry="1.7" fill="#5e5e5e"/>
</g>
<g id="annotations">
<line x1="60.6" y1="290.5" x2="60.6" y2="86.5" stroke="#444444" stroke-width="5.0"/>
<polygon points="60.6,70.5 68.1,87.5 53.1,87.5" fill="#444444"/>
<line x1="60.6" y1="331.0" x2="60.6" y2="535.5" stroke="#444444" stroke-width="5.0"/>
<polygon points="60.6,550.5 53.1,534.5 68.1,534.5" fill="#444444"/>
<rect x="12.1" y="293.8" width="97.0" height="35.0" rx="17.5" fill="#fff" filter="url(#soft)"/>
<text x="60.6" y="319.8" font-size="23.7" fill="#333" text-anchor="middle">3,46 m</text>
<line x1="1347.6" y1="372.8" x2="1347.6" y2="302.0" stroke="#444444" stroke-width="5.0"/>
<polygon points="1347.6,287.0 1355.1,303.0 1340.1,303.0" fill="#444444"/>
<line x1="1347.6" y1="414.0" x2="1347.6" y2="483.0" stroke="#444444" stroke-width="5.0"/>
<polygon points="1347.6,498.0 1340.1,482.0 1355.1,482.0" fill="#444444"/>
<rect x="1315.5" y="373.6" width="65.5" height="35.0" rx="17.5" fill="#fff" filter="url(#soft)"/>
<text x="1348.2" y="399.6" font-size="23.7" fill="#333" text-anchor="middle">2 m</text>
<line x1="440.0" y1="613.3" x2="132.2" y2="604.5" stroke="#444444" stroke-width="5.0"/>
<polygon points="117.7,604.1 133.4,597.3 133.0,611.8" fill="#444444"/>
<line x1="532.0" y1="616.1" x2="840.2" y2="624.9" stroke="#444444" stroke-width="5.0"/>
<polygon points="854.7,625.3 839.0,632.1 839.4,617.6" fill="#444444"/>
<rect x="453.4" y="593.4" width="65.5" height="35.0" rx="17.5" fill="#fff" filter="url(#soft)"/>
<text x="486.2" y="619.4" font-size="23.7" fill="#333" text-anchor="middle">8 m</text>
<line x1="1058.4" y1="594.9" x2="911.4" y2="621.0" stroke="#444444" stroke-width="5.0"/>
<polygon points="897.1,623.5 911.1,613.7 913.6,627.9" fill="#444444"/>
<line x1="1146.2" y1="575.9" x2="1292.3" y2="551.0" stroke="#444444" stroke-width="5.0"/>
<polygon points="1306.6,548.6 1292.5,558.3 1290.1,544.1" fill="#444444"/>
<rect x="1061.8" y="564.0" width="77.5" height="35.0" rx="17.5" fill="#fff" filter="url(#soft)"/>
<text x="1100.5" y="590.0" font-size="23.7" fill="#333" text-anchor="middle">38 m</text>
<line x1="266.6" y1="346.8" x2="266.6" y2="200.5" stroke="#d10a0a" stroke-width="5.4"/>
<polygon points="266.6,186.5 273.8,201.5 259.5,201.5" fill="#d10a0a"/>
<line x1="266.6" y1="386.0" x2="266.6" y2="532.8" stroke="#d10a0a" stroke-width="5.4"/>
<polygon points="266.6,546.8 259.5,531.8 273.8,531.8" fill="#d10a0a"/>
<rect x="221.5" y="349.6" width="86.4" height="33.0" rx="16.5" fill="#fff" filter="url(#soft)"/>
<text x="266.9" y="373.2" font-size="19.8" fill="#d10a0a" text-anchor="middle">2,59 m</text>
<line x1="433.4" y1="535.7" x2="343.7" y2="532.6" stroke="#d10a0a" stroke-width="5.4"/>
<polygon points="328.9,532.1 344.9,525.7 344.5,539.5" fill="#d10a0a"/>
<line x1="525.6" y1="537.2" x2="615.3" y2="540.1" stroke="#d10a0a" stroke-width="5.4"/>
<polygon points="630.1,540.6 614.1,547.0 614.5,533.2" fill="#d10a0a"/>
<rect x="435.4" y="517.5" width="86.4" height="33.0" rx="16.5" fill="#fff" filter="url(#soft)"/>
<text x="478.6" y="541.1" font-size="19.8" fill="#d10a0a" text-anchor="middle">4,06 m</text>
<circle cx="190.0" cy="207.9" r="16.8" fill="#333"/>
<text x="190.0" y="214.8" font-size="19.4" fill="#fff" stroke="#fff" stroke-width="0.55" text-anchor="middle">1</text>
<circle cx="325.0" cy="152.0" r="16.8" fill="#333"/>
<text x="325.0" y="158.9" font-size="19.4" fill="#fff" stroke="#fff" stroke-width="0.55" text-anchor="middle">2</text>
<circle cx="483.0" cy="124.5" r="16.8" fill="#333"/>
<text x="483.0" y="131.4" font-size="19.4" fill="#fff" stroke="#fff" stroke-width="0.55" text-anchor="middle">3</text>
<circle cx="863.7" cy="249.0" r="16.8" fill="#333"/>
<text x="863.7" y="255.9" font-size="19.4" fill="#fff" stroke="#fff" stroke-width="0.55" text-anchor="middle">4</text>
<circle cx="662.0" cy="405.5" r="16.8" fill="#333"/>
<text x="662.0" y="412.4" font-size="19.4" fill="#fff" stroke="#fff" stroke-width="0.55" text-anchor="middle">5</text>
<circle cx="753.0" cy="556.7" r="16.8" fill="#333"/>
<text x="753.0" y="563.6" font-size="19.4" fill="#fff" stroke="#fff" stroke-width="0.55" text-anchor="middle">6</text>
<circle cx="864.2" cy="557.5" r="16.8" fill="#333"/>
<text x="864.2" y="564.4" font-size="19.4" fill="#fff" stroke="#fff" stroke-width="0.55" text-anchor="middle">7</text>
<circle cx="374.0" cy="326.0" r="16.8" fill="#333"/>
<text x="374.0" y="332.9" font-size="19.4" fill="#fff" stroke="#fff" stroke-width="0.55" text-anchor="middle">8</text>
<circle cx="444.5" cy="220.0" r="16.8" fill="#333"/>
<text x="444.5" y="226.9" font-size="19.4" fill="#fff" stroke="#fff" stroke-width="0.55" text-anchor="middle">9</text>
<circle cx="412.5" cy="498.7" r="16.8" fill="#333"/>
<text x="411.7" y="505.6" font-size="19.4" fill="#fff" stroke="#fff" stroke-width="0.55" text-anchor="middle" letter-spacing="-1">10</text>
<circle cx="414.0" cy="284.0" r="16.8" fill="#333"/>
<text x="413.2" y="290.9" font-size="19.4" fill="#fff" stroke="#fff" stroke-width="0.55" text-anchor="middle" letter-spacing="-1">11</text>
<circle cx="830.0" cy="314.0" r="16.8" fill="#333"/>
<text x="829.2" y="320.9" font-size="19.4" fill="#fff" stroke="#fff" stroke-width="0.55" text-anchor="middle" letter-spacing="-1">12</text>
</g>
</svg>
</body>
</html>
